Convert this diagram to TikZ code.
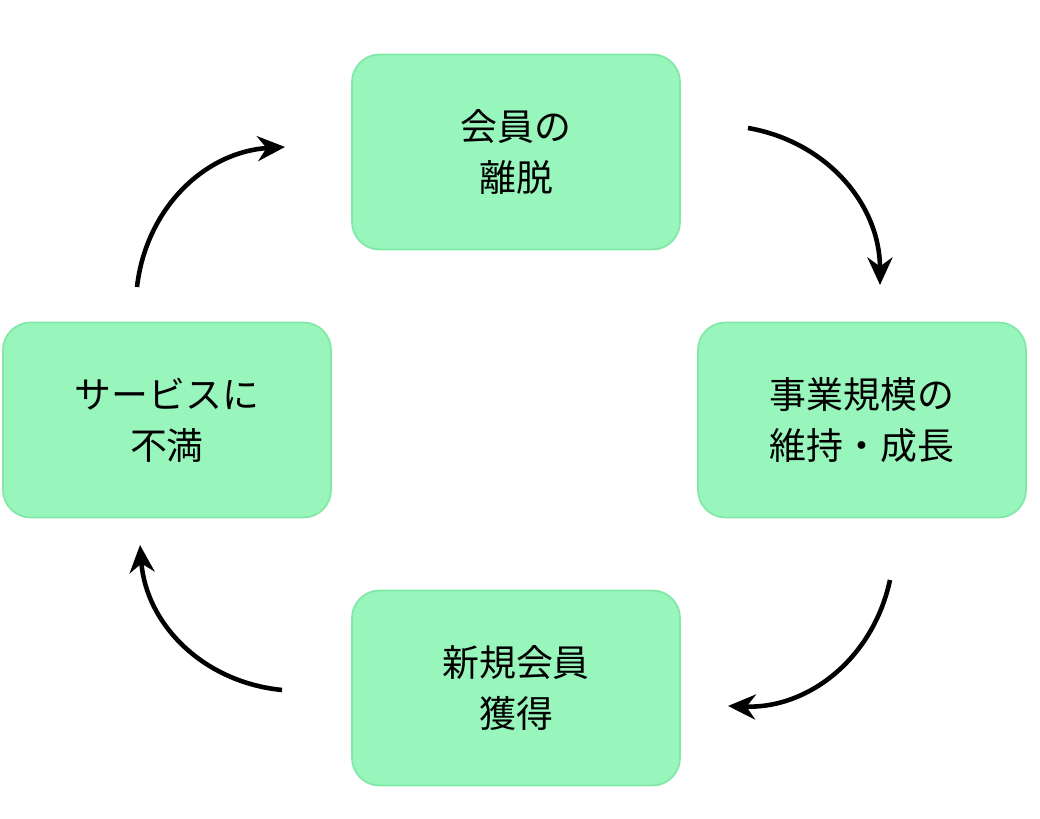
\documentclass[tikz,border=0pt]{standalone}
\usepackage{fontspec}
\setmainfont{Noto Sans CJK JP}
\usetikzlibrary{arrows.meta}
\definecolor{boxfill}{RGB}{152,246,188}
\definecolor{boxline}{RGB}{130,232,168}
\tikzset{
  box/.style = {draw = boxline, line width = 1pt, fill = boxfill, rounded corners = 0.55cm,
    minimum width = 6.56cm, minimum height = 3.9cm, align = center,
    font = \fontsize{21}{29}\selectfont},
  cyc/.style = {line width = 2.6pt, -{Stealth[length = 0.55cm, width = 0.5cm]}}
}
\begin{document}
\begin{tikzpicture}
\useasboundingbox (0,0) rectangle (20.8,16.38);
\node[box] (leave) at (10.32,13.34) {会員の\\離脱};
\node[box] (grow) at (17.24,7.98) {事業規模の\\維持・成長};
\node[box] (gain) at (10.32,2.62) {新規会員\\獲得};
\node[box] (dissat) at (3.34,7.98) {サービスに\\不満};
% free ends of the cycle arrows
\coordinate (a1) at (14.96,13.82);
\coordinate (a2) at (17.6,10.68);
\coordinate (b1) at (17.8,4.78);
\coordinate (b2) at (14.56,2.26);
\coordinate (c1) at (5.64,2.58);
\coordinate (c2) at (2.8,5.48);
\coordinate (d1) at (2.74,10.64);
\coordinate (d2) at (5.7,13.44);
\draw[cyc] (a1) to[bend left = 40] (a2);
\draw[cyc] (b1) to[bend left = 40] (b2);
\draw[cyc] (c1) to[bend left = 40] (c2);
\draw[cyc] (d1) to[bend left = 40] (d2);
\end{tikzpicture}
\end{document}
